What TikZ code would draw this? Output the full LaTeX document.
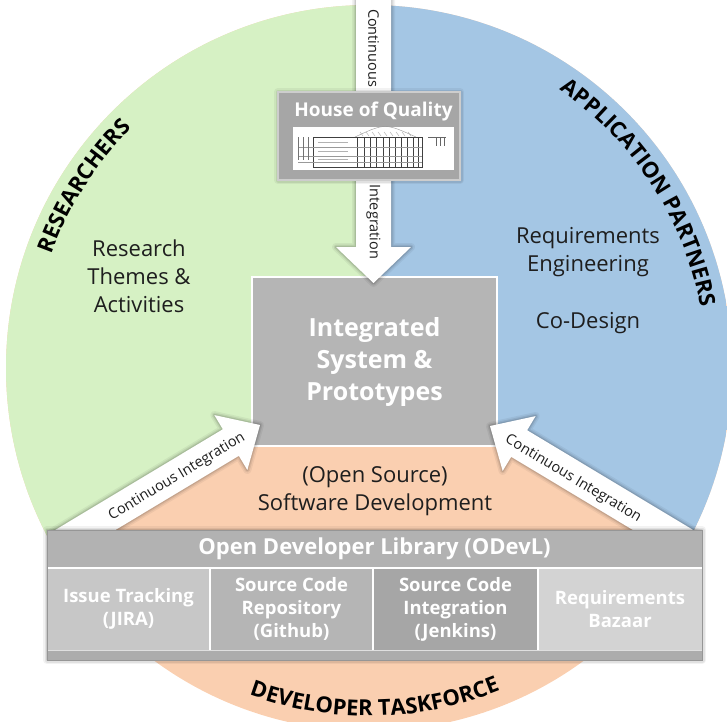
\documentclass[tikz,border=0pt]{standalone}
\usepackage{fontspec}
\setmainfont{Open Sans}
\usetikzlibrary{decorations.text}

\definecolor{grn}{RGB}{214,241,196}
\definecolor{blu}{RGB}{164,198,228}
\definecolor{peach}{RGB}{250,207,176}
\definecolor{boxgray}{RGB}{181,181,181}
\definecolor{hoqgray}{RGB}{166,166,166}
\definecolor{hoqrim}{RGB}{205,205,205}
\definecolor{bargray}{RGB}{178,178,178}
\definecolor{barrim}{RGB}{150,150,150}
\definecolor{stripgray}{RGB}{172,172,172}
\definecolor{cellA}{RGB}{199,199,199}
\definecolor{cellB}{RGB}{181,181,181}
\definecolor{cellC}{RGB}{166,166,166}
\definecolor{cellD}{RGB}{211,211,211}
\definecolor{ink}{RGB}{30,30,30}

\newcommand\rimfont{\bfseries\fontsize{22}{22}\selectfont}

\tikzset{
  halo/.style={
    preaction={draw=black, draw opacity=0.05, line width=8pt, line join=round},
    preaction={draw=black, draw opacity=0.07, line width=5pt, line join=round},
    preaction={draw=black, draw opacity=0.10, line width=2.5pt, line join=round}},
  blockarrow/.style={fill=white, halo},
  bodytext/.style={font=\fontsize{22}{28}\selectfont, text=ink, align=center, inner sep=0pt},
  centerbox/.style={draw=white, line width=2.5pt, fill=boxgray, text=white, align=center,
    font=\bfseries\fontsize{25}{32}\selectfont, minimum width=245pt, minimum height=169pt,
    inner sep=0pt, outer sep=0pt},
  arrowtext/.style={font=\fontsize{14.5}{15}\selectfont, text=ink, inner sep=0pt},
  cell/.style={minimum height=82pt, inner sep=0pt, outer sep=0pt, text=white, align=center,
    font=\bfseries\fontsize{18.5}{23}\selectfont},
  rimlabel/.style={decorate, decoration={text along path, text align=center, text={|\rimfont|#1}}},
}

\begin{document}
\begin{tikzpicture}[x=1pt, y=1pt]
\useasboundingbox (0,0) rectangle (727,-721);

% three coloured sectors of the disc
\coordinate (C) at (369,-368);
\fill[peach] (C) circle[radius=363];
\begin{scope}
  \clip (C) circle[radius=363];
  \fill[grn] (0,10) -- (373.5,10) -- (373.5,-400) -- (252,-400) -- (252,-430) -- (0,-581) -- cycle;
  \fill[blu] (373.5,10) -- (740,10) -- (740,-576) -- (498,-430) -- (498,-400) -- (373.5,-400) -- cycle;
\end{scope}

% sector contents
\node[bodytext] (research) at (139,-276) {Research\\Themes \&\\Activities};
\node[bodytext] (reqeng) at (588,-252) {Requirements\\Engineering};
\node[bodytext] (codesign) at (588,-323) {Co-Design};
\node[bodytext] (oss) at (375,-491) {(Open Source)\\Software Development};

% central box
\node[centerbox] (isp) at (374.5,-361.5) {Integrated\\System \&\\Prototypes};

% arrow tips on the central box
\coordinate (tipT) at ([shift={(-1,-6)}]isp.north);
\coordinate (tipL) at ([shift={(8,21)}]isp.south west);
\coordinate (tipR) at ([shift={(-7,20)}]isp.south east);

% vertical integration arrow
\begin{scope}[shift={(tipT)}, rotate=-90]
  \fill[blockarrow] (0,0) -- (-36,-37.5) -- (-36,-17.5) -- (-300,-17.5) -- (-300,17.5) -- (-36,17.5) -- (-36,37.5) -- cycle;
\end{scope}
% continuous integration arrows from the library
\begin{scope}[shift={(tipL)}, rotate=31]
  \fill[blockarrow] (0,0) -- (-34,-32) -- (-34,-15.5) -- (-234,-15.5) -- (-234,15.5) -- (-34,15.5) -- (-34,32) -- cycle;
\end{scope}
\begin{scope}[shift={(tipR)}, rotate=149]
  \fill[blockarrow] (0,0) -- (-34,-32) -- (-34,-15.5) -- (-234,-15.5) -- (-234,15.5) -- (-34,15.5) -- (-34,32) -- cycle;
\end{scope}

\node[arrowtext, rotate=-90] (contT) at (373.5,-48) {Continuous};
\node[arrowtext, rotate=-90] (integT) at (373.5,-222) {Integration};
\node[arrowtext, rotate=31] (ciL) at (177,-477) {Continuous Integration};
\node[arrowtext, rotate=-31] (ciR) at (573,-479) {Continuous Integration};

% House of Quality panel
\node[fill=hoqgray, draw=hoqrim, line width=2pt, minimum width=182pt, minimum height=88pt,
      inner sep=0pt, halo] (hoq) at (369,-136) {};
\node[text=white, font=\bfseries\fontsize{19}{19}\selectfont, inner sep=0pt] (hoqtitle) at (373.5,-112) {House of Quality};
\fill[white] (293,-127) rectangle (454,-170);
\begin{scope}[line width=0.4pt]
  \draw[black!75] (313,-137) rectangle (422,-167);
  \foreach \xx in {357,364,370,376,383,389,395,401,407,413,418}
    \draw[black!75] (\xx,-137) -- (\xx,-167);
  \foreach \yy in {147,156,162}
    \draw[black!40] (298,-\yy) -- (422,-\yy);
  \foreach \xx in {298,303,308}
    \draw[black!55] (\xx,-137) -- (\xx,-160);
  \draw[black!40] (355,-137) .. controls (385,-123) .. (416,-137);
  \foreach \xx in {360,366,372,378,384,390,396,402,408}
    \draw[black!35] (\xx,-132) -- (\xx+3,-136);
  \foreach \yy in {142,151,159}
    \draw[black!30, line width=0.3pt] (318,-\yy) -- (348,-\yy);
  \draw[black!60] (428,-137) -- (446,-137);
  \foreach \xx in {436,440,444}
    \draw[black!60] (\xx,-137) -- (\xx,-146);
\end{scope}

% Open Developer Library bar
\fill[white, halo] (47,-530) rectangle (702,-660);
\node[fill=bargray, minimum width=655pt, minimum height=38pt, inner sep=0pt, outer sep=0pt,
      text=white, font=\bfseries\fontsize{22}{22}\selectfont] (odevl) at (374.5,-549)
      {Open Developer Library (ODevL)};
\node[cell, fill=cellA, minimum width=163pt] (jira) at (128.5,-609) {Issue Tracking\\(JIRA)};
\node[cell, fill=cellB, minimum width=163pt] (github) at (291.5,-609) {Source Code\\Repository\\(Github)};
\node[cell, fill=cellC, minimum width=165pt] (jenkins) at (455.5,-609) {Source Code\\Integration\\(Jenkins)};
\node[cell, fill=cellD, minimum width=164pt] (bazaar) at (620,-609) {Requirements\\Bazaar};
\fill[stripgray] (47,-650) rectangle (702,-660);
\draw[white, line width=1.6pt] (odevl.south west) -- (odevl.south east);
\draw[white, line width=1.6pt] (jira.north east) -- (jira.south east);
\draw[white, line width=1.6pt] (github.north east) -- (github.south east);
\draw[white, line width=1.6pt] (jenkins.north east) -- (jenkins.south east);
\draw[white!75!gray, line width=0.8pt] (jira.south west) -- (bazaar.south east);
\draw[barrim, line width=1pt] (47,-530) rectangle (702,-660);

% group names around the rim
\path[rimlabel=RESEARCHERS] ([shift={(175:337)}]C) arc[start angle=175, end angle=120, radius=337];
\path[rimlabel=APPLICATION PARTNERS] ([shift={(70:337)}]C) arc[start angle=70, end angle=-4, radius=337];
\path[rimlabel=DEVELOPER TASKFORCE] ([shift={(226:348)}]C) arc[start angle=226, end angle=316, radius=348];
\end{tikzpicture}
\end{document}
